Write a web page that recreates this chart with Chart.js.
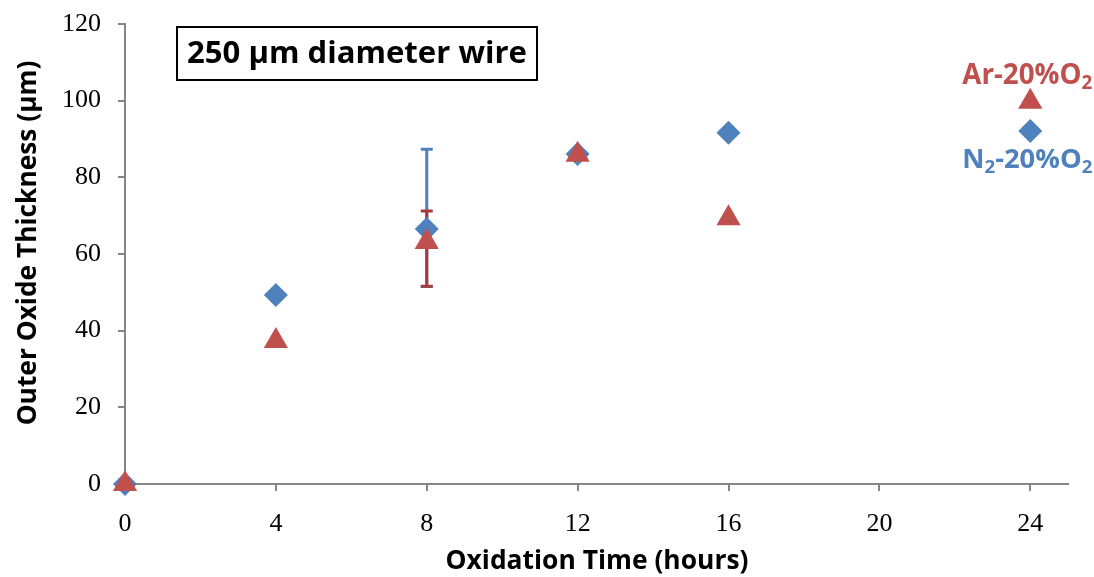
<!DOCTYPE html>
<html>
<head>
<meta charset="utf-8">
<script src="https://cdn.jsdelivr.net/npm/chart.js@4.4.1/dist/chart.umd.min.js"></script>
<style>
    body { margin: 0; background: #fff; }
    #wrap { width: 1094px; height: 577px; position: relative; }
</style>
</head>
<body>
<div id="wrap"><canvas id="chart"></canvas></div>
<script>
// oxidation time (hours)
var hours = [0, 4, 8, 12, 16, 24];
var n2Thickness = [0, 49.3, 66.5, 86.1, 91.6, 92.1];
var arThickness = [0, 37.3, 63.1, 85.9, 69.3, 99.7];

// error bars (only the 8 h point has them)
var n2ErrHours = [8];
var n2ErrLow = [51.5];
var n2ErrHigh = [87.3];
var arErrHours = [8];
var arErrLow = [51.6];
var arErrHigh = [71.2];

var xTicks = [0, 4, 8, 12, 16, 20, 24];
var yTicks = [0, 20, 40, 60, 80, 100, 120];

var blue = '#4F81BD';
var red = '#C0504D';
var axisGray = '#868686';
var boldFont = '"Open Sans", Lato, sans-serif';
var serifFont = '"Liberation Serif", "DejaVu Serif", serif';

function toPoints(xs, ys) {
    return xs.map((x, i) => ({ x: x, y: ys[i] }));
}

// font size so a bold string fills the given width
function fitSize(ctx, text, width) {
    ctx.font = 'bold 100px ' + boldFont;
    return 100 * width / ctx.measureText(text).width;
}

// draws a string made of parts, some of them subscript, centred on cx
function drawRich(ctx, parts, cx, baseY, width, color) {
    var plain = parts.map(p => p.t).join('');
    var size = fitSize(ctx, plain, width);
    var subSize = size * 0.68;
    var total = 0;
    parts.forEach(p => {
        ctx.font = 'bold ' + (p.sub ? subSize : size) + 'px ' + boldFont;
        p.w = ctx.measureText(p.t).width;
        total += p.w;
    });
    var scale = width / total;
    size *= scale; subSize *= scale;
    var x = cx - width / 2;
    ctx.fillStyle = color;
    ctx.textAlign = 'left';
    ctx.textBaseline = 'alphabetic';
    parts.forEach(p => {
        ctx.font = 'bold ' + (p.sub ? subSize : size) + 'px ' + boldFont;
        ctx.fillText(p.t, x, baseY + (p.sub ? size * 0.18 : 0));
        x += p.w * scale;
    });
}

var errorBars = {
    id: 'errorBars',
    beforeDatasetsDraw(chart) {
        var ctx = chart.ctx;
        var xs = chart.scales.x, ys = chart.scales.y;
        var sets = [
            { h: n2ErrHours, lo: n2ErrLow, hi: n2ErrHigh, color: blue },
            { h: arErrHours, lo: arErrLow, hi: arErrHigh, color: '#A83A3A' }
        ];
        ctx.save();
        ctx.lineWidth = 3;
        sets.forEach(s => {
            ctx.strokeStyle = s.color;
            s.h.forEach((h, i) => {
                var px = xs.getPixelForValue(h);
                var top = ys.getPixelForValue(s.hi[i]);
                var bot = ys.getPixelForValue(s.lo[i]);
                ctx.beginPath();
                ctx.moveTo(px, top); ctx.lineTo(px, bot);
                ctx.moveTo(px - 6, top); ctx.lineTo(px + 6, top);
                ctx.moveTo(px - 6, bot); ctx.lineTo(px + 6, bot);
                ctx.stroke();
            });
        });
        ctx.restore();
    }
};

var extras = {
    id: 'extras',
    afterDraw(chart) {
        var ctx = chart.ctx;
        var xs = chart.scales.x, ys = chart.scales.y;
        ctx.save();

        // axis titles
        ctx.fillStyle = '#000';
        ctx.textAlign = 'center';
        ctx.textBaseline = 'alphabetic';
        var xt = 'Oxidation Time (hours)';
        ctx.font = 'bold ' + fitSize(ctx, xt, 303) + 'px ' + boldFont;
        ctx.fillText(xt, 597, 569);
        var yt = 'Outer Oxide Thickness (µm)';
        ctx.font = 'bold ' + fitSize(ctx, yt, 365) + 'px ' + boldFont;
        ctx.translate(36, 243);
        ctx.rotate(-Math.PI / 2);
        ctx.fillText(yt, 0, 0);
        ctx.setTransform(1, 0, 0, 1, 0, 0);

        // boxed note
        var note = '250 µm diameter wire';
        ctx.font = 'bold ' + fitSize(ctx, note, 340) + 'px ' + boldFont;
        ctx.fillStyle = '#000';
        ctx.textAlign = 'center';
        ctx.textBaseline = 'alphabetic';
        ctx.fillText(note, 357, 63);
        ctx.lineWidth = 2;
        ctx.strokeStyle = '#000';
        ctx.strokeRect(177, 27, 360, 53);

        // series labels next to the 24 h points
        var lx = xs.getPixelForValue(24);
        drawRich(ctx, [{ t: 'Ar-20%O' }, { t: '2', sub: true }], lx - 3, ys.getPixelForValue(arThickness[5]) - 18, 130, red);
        drawRich(ctx, [{ t: 'N' }, { t: '2', sub: true }, { t: '-20%O' }, { t: '2', sub: true }], lx - 3, ys.getPixelForValue(n2Thickness[5]) + 37, 130, blue);
        ctx.restore();
    }
};

new Chart(document.getElementById('chart'), {
    type: 'scatter',
    data: {
        datasets: [{
            label: 'Ar-20%O2',
            data: toPoints(hours, arThickness),
            pointStyle: 'triangle',
            radius: 14,
            hoverRadius: 14,
            backgroundColor: red,
            borderColor: red,
            borderWidth: 0,
            clip: false
        }, {
            label: 'N2-20%O2',
            data: toPoints(hours, n2Thickness),
            pointStyle: 'rectRot',
            radius: 12,
            hoverRadius: 12,
            backgroundColor: blue,
            borderColor: blue,
            borderWidth: 0,
            clip: false
        }]
    },
    options: {
        responsive: true,
        maintainAspectRatio: false,
        animation: false,
        layout: {
            padding: { top: 24, right: 26, left: 0, bottom: 0 }
        },
        scales: {
            x: {
                type: 'linear',
                min: 0,
                max: 25,
                afterBuildTicks: s => { s.ticks = xTicks.map(v => ({ value: v })); },
                afterFit: s => { s.height = 93; s.paddingLeft = 0; s.paddingRight = 0; },
                border: { color: axisGray, width: 2 },
                grid: { drawOnChartArea: false, drawTicks: true, tickLength: 7, color: axisGray, lineWidth: 2 },
                ticks: { color: '#000', font: { family: serifFont, size: 26 }, padding: 18, maxRotation: 0 }
            },
            y: {
                type: 'linear',
                min: 0,
                max: 120,
                afterBuildTicks: s => { s.ticks = yTicks.map(v => ({ value: v })); },
                afterFit: s => { s.width = 125; s.paddingTop = 0; s.paddingBottom = 0; },
                border: { color: axisGray, width: 2 },
                grid: { drawOnChartArea: false, drawTicks: true, tickLength: 7, color: axisGray, lineWidth: 2 },
                ticks: { color: '#000', font: { family: serifFont, size: 26 }, padding: 17 }
            }
        },
        plugins: {
            legend: { display: false },
            tooltip: { enabled: false }
        }
    },
    plugins: [errorBars, extras]
});
</script>
</body>
</html>
